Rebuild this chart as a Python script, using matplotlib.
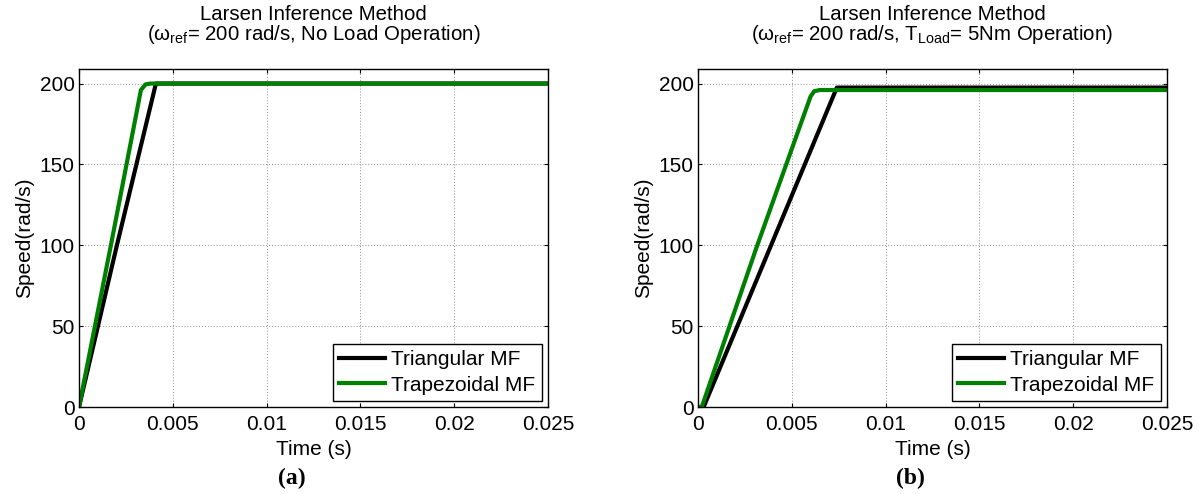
import matplotlib
matplotlib.use("Agg")
import matplotlib.pyplot as plt

plt.rcParams['font.family'] = ['Liberation Sans', 'DejaVu Sans']
plt.rcParams['mathtext.fontset'] = 'custom'
plt.rcParams['mathtext.rm'] = 'Liberation Sans'
plt.rcParams['mathtext.it'] = 'Liberation Sans'

# ---- data ----
# (a) no load
t_tri_a = [0.0, 0.00202, 0.0041, 0.025]
w_tri_a = [0.0, 100.0, 200.0, 200.0]
t_trap_a = [0.0, 0.0017, 0.0033, 0.00355, 0.0038, 0.025]
w_trap_a = [0.0, 100.0, 196.0, 199.5, 200.0, 200.0]
# (b) T_load = 5 Nm
t_tri_b = [0.0, 0.0003, 0.0074, 0.025]
w_tri_b = [0.0, 0.0, 197.5, 197.5]
t_trap_b = [0.0, 0.0002, 0.0031, 0.0060, 0.0062, 0.0065, 0.025]
w_trap_b = [0.0, 0.0, 98.0, 192.0, 195.3, 196.0, 196.0]

xticks = [0, 0.005, 0.01, 0.015, 0.02, 0.025]
xtick_labels = ['0', '0.005', '0.01', '0.015', '0.02', '0.025']
yticks = [0, 50, 100, 150, 200]
series_labels = ['Triangular MF', 'Trapezoidal MF']
title_line1 = 'Larsen Inference Method'
title_line2 = ['(ω$_{\\mathrm{ref}}$= 200 rad/s, No Load Operation)',
               '(ω$_{\\mathrm{ref}}$= 200 rad/s, T$_{\\mathrm{Load}}$= 5Nm Operation)']
panel_labels = ['(a)', '(b)']

W, H = 1199, 494
fig = plt.figure(figsize=(W / 100, H / 100), dpi=100)

axes_left = [79, 698]
ax_w, ax_bottom, ax_top = 469, 407, 69
panel_x = [292, 910]

datasets = [(t_tri_a, w_tri_a, t_trap_a, w_trap_a),
            (t_tri_b, w_tri_b, t_trap_b, w_trap_b)]

for i in range(2):
    ax = fig.add_axes([axes_left[i] / W, (H - ax_bottom) / H, ax_w / W, (ax_bottom - ax_top) / H])
    tt, wt, tz, wz = datasets[i]
    ax.plot(tt, wt, color='black', lw=3, label=series_labels[0], solid_joinstyle='round')
    ax.plot(tz, wz, color='#008000', lw=3, label=series_labels[1], solid_joinstyle='round')
    ax.set_xlim(0, 0.025)
    ax.set_ylim(0, 209)
    ax.set_xticks(xticks)
    ax.set_xticklabels(xtick_labels)
    ax.set_yticks(yticks)
    ax.grid(True, linestyle=(0, (1, 2)), color='0.55', lw=0.7)
    ax.tick_params(direction='in', length=3, width=0.8, top=True, right=True,
                   labelsize=15, colors='black')
    ax.tick_params(axis='x', pad=6)
    ax.tick_params(axis='y', pad=3)
    for s in ax.spines.values():
        s.set_linewidth(1.0)
        s.set_color('black')
    ax.set_xlabel('Time (s)', fontsize=15, labelpad=4)
    ax.set_ylabel('Speed(rad/s)', fontsize=15, labelpad=4)
    leg = ax.legend(loc='lower right', fontsize=15, frameon=True, fancybox=False,
                    edgecolor='black', framealpha=1, borderaxespad=0.3,
                    handlelength=2.2, handletextpad=0.3, labelspacing=0.3,
                    borderpad=0.3)
    leg.get_frame().set_linewidth(1.0)
    cx = (axes_left[i] + ax_w / 2) / W
    fig.text(cx, 1 - 20 / H, title_line1, ha='center', va='baseline', fontsize=14.7)
    fig.text(cx, 1 - 40 / H, title_line2[i], ha='center', va='baseline', fontsize=14.7)
    fig.text(panel_x[i] / W, 1 - 478 / H, panel_labels[i], ha='center', va='center',
             fontsize=17, fontweight='bold', family='Liberation Serif')

fig.savefig('out.png', dpi=100)
